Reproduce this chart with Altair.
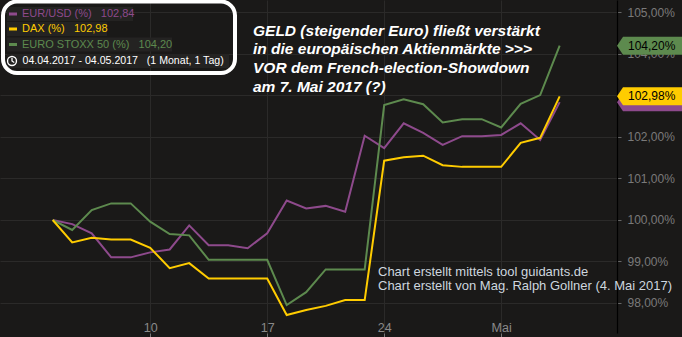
import altair as alt
import pandas as pd

# ---------------- data ----------------
day_index = list(range(27))  # trading-day slots 04.04.2017 .. 04.05.2017
eur_usd = [100.00, 99.90, 99.68, 99.10, 99.10, 99.22, 99.29, 99.87, 99.39, 99.39,
           99.32, 99.68, 100.47, 100.28, 100.34, 100.20, 102.03, 101.73, 102.33, 102.10,
           101.81, 102.02, 102.02, 102.05, 102.33, 101.93, 102.84]
dax = [100.00, 99.46, 99.57, 99.53, 99.53, 99.33, 98.84, 98.96, 98.59, 98.59,
       98.59, 98.59, 97.71, 97.83, 97.93, 98.07, 98.07, 101.43, 101.51, 101.55,
       101.32, 101.28, 101.28, 101.28, 101.86, 101.98, 102.98]
euro_stoxx = [100.00, 99.76, 100.24, 100.40, 100.40, 99.96, 99.66, 99.63, 99.04, 99.04,
              99.04, 99.04, 97.95, 98.26, 98.81, 98.81, 98.81, 102.77, 102.91, 102.79,
              102.35, 102.43, 102.43, 102.23, 102.80, 103.01, 104.20]
series_names = ["EUR/USD", "DAX", "EURO STOXX 50"]
series_colors = ["#8e4a8c", "#ffcc00", "#5d8a4e"]
x_tick_pos = [5, 11, 17, 23]
x_tick_labels = ["10", "17", "24", "Mai"]
y_ticks = [98, 99, 100, 101, 102, 103, 104, 105]
date_range_text = "04.04.2017 - 04.05.2017\u00a0\u00a0\u00a0(1 Monat, 1 Tag)"
headline = ["GELD (steigender Euro) fließt verstärkt",
            "in die europäischen Aktienmärkte >>>",
            "VOR dem French-election-Showdown",
            "am 7. Mai 2017 (?)"]
credits = ["Chart erstellt mittels tool guidants.de",
           "Chart erstellt von Mag. Ralph Gollner (4. Mai 2017)"]

values_by_series = dict(zip(series_names, [eur_usd, dax, euro_stoxx]))
rows = []
for name in series_names:
    for i, v in zip(day_index, values_by_series[name]):
        rows.append({"series": name, "i": i, "v": v})
df = pd.DataFrame(rows)


def de_fmt(v):
    return f"{v:.2f}".replace(".", ",")


last = df[df.i == day_index[-1]].copy()
last["label"] = last.v.map(lambda v: de_fmt(v) + "%")

# ---------------- styling ----------------
W, H = 617, 333
BG = "#1a1918"
GRID = "#2b2a29"
AXIS_TXT = "#7a7a7a"
FONT = "Liberation Sans"

xscale = alt.Scale(domain=[-2.703, 28.94], nice=False, zero=False)
yscale = alt.Scale(domain=[97.277, 105.301], nice=False, zero=False)
cscale = alt.Scale(domain=series_names, range=series_colors)

x_label_expr = " : ".join(f"datum.value == {p} ? '{l}'" for p, l in zip(x_tick_pos, x_tick_labels)) + " : ''"

X = alt.X("i:Q", scale=xscale, title=None,
          axis=alt.Axis(values=x_tick_pos, labelExpr=x_label_expr, grid=True, gridColor=GRID,
                        domain=False, tickColor="#777", tickSize=4, labelColor="#8a8a8a",
                        labelFont=FONT, labelFontSize=12.5, labelPadding=-6,
                        labelBaseline="alphabetic"))
Y = alt.Y("v:Q", scale=yscale, title=None,
          axis=alt.Axis(orient="right", values=y_ticks,
                        labelExpr="replace(format(datum.value, '.2f'), '.', ',') + '%'",
                        grid=True, gridColor=GRID, domainColor="#000000", domainWidth=1.2,
                        tickColor="#666", tickSize=4, labelColor=AXIS_TXT, labelFont=FONT,
                        labelFontSize=12, labelPadding=6))
C = alt.Color("series:N", scale=cscale, legend=None)

layers = []
# lines: purple, green, yellow (yellow on top)
for name in ["EUR/USD", "EURO STOXX 50", "DAX"]:
    layers.append(
        alt.Chart(df[df.series == name]).mark_line(strokeWidth=2).encode(x=X, y=Y, color=C)
    )

# right-side value tags (the EUR/USD tag sits hidden behind the DAX tag)
tag_path = "M-1,0L-0.815,-0.277L1,-0.277L1,0.277L-0.815,0.277Z"
for name in ["EUR/USD", "EURO STOXX 50", "DAX"]:
    d = last[last.series == name]
    layers.append(
        alt.Chart(d).mark_point(shape=tag_path, filled=True, opacity=1, size=65 * 65).encode(
            x=alt.value(649.5), y=Y, color=C)
    )
    if name != "EUR/USD":
        layers.append(
            alt.Chart(d).mark_text(align="left", baseline="middle", font=FONT, fontSize=12,
                                   color="#000000").encode(x=alt.value(628), y=Y, text="label:N")
        )

# legend box
one = pd.DataFrame({"d": [0]})
row_y = [14, 29, 44.5, 61]
row_ends = [133, 107, 172, 229]
for ry, re_ in zip(row_y, row_ends):
    layers.append(alt.Chart(one).mark_rect(color="#242322").encode(
        x=alt.value(7), x2=alt.value(re_), y=alt.value(ry - 7), y2=alt.value(ry + 7)))

for k, name in enumerate(series_names):
    vals = values_by_series[name]
    lab = pd.DataFrame({"t": [f"{name} (%)\u00a0\u00a0\u00a0{de_fmt(vals[-1])}"]})
    layers.append(alt.Chart(one).mark_rect(color=series_colors[k]).encode(
        x=alt.value(9), x2=alt.value(17), y=alt.value(row_y[k] - 1.5), y2=alt.value(row_y[k] + 1.5)))
    layers.append(alt.Chart(lab).mark_text(align="left", baseline="middle", font=FONT, fontSize=11,
                                          color=series_colors[k]).encode(
        x=alt.value(22), y=alt.value(row_y[k]), text="t:N"))

# clock icon + date range
layers.append(alt.Chart(one).mark_point(shape="circle", filled=False, size=80, color="white",
                                        strokeWidth=1.4, opacity=1).encode(
    x=alt.value(12), y=alt.value(row_y[3])))
layers.append(alt.Chart(one).mark_point(shape="M0,-0.6L0,0L0.45,0.3", filled=False, size=100,
                                        color="white", strokeWidth=1.3, opacity=1).encode(
    x=alt.value(12), y=alt.value(row_y[3])))
layers.append(alt.Chart(pd.DataFrame({"t": [date_range_text]})).mark_text(
    align="left", baseline="middle", font=FONT, fontSize=10.6, color="#ffffff").encode(
    x=alt.value(22.5), y=alt.value(row_y[3]), text="t:N"))

layers.append(alt.Chart(one).mark_rect(fillOpacity=0, stroke="white", strokeWidth=4,
                                       cornerRadius=14).encode(
    x=alt.value(3), x2=alt.value(235), y=alt.value(1.5), y2=alt.value(73)))

# headline annotation
for k, line in enumerate(headline):
    layers.append(alt.Chart(pd.DataFrame({"t": [line]})).mark_text(
        align="left", baseline="alphabetic", font=FONT, fontSize=15.5, fontWeight="bold",
        fontStyle="italic", color="#ffffff").encode(
        x=alt.value(253), y=alt.value(35.5 + 18.8 * k), text="t:N"))

# credits
for k, line in enumerate(credits):
    layers.append(alt.Chart(pd.DataFrame({"t": [line]})).mark_text(
        align="left", baseline="alphabetic", font=FONT, fontSize=13, color="#cdd6df").encode(
        x=alt.value(378), y=alt.value(275.7 + 13.8 * k), text="t:N"))

chart = alt.layer(*layers).properties(
    width=W, height=H,
    padding={"left": 0, "top": 0, "right": 65, "bottom": 4},
    autosize="none",
    background=BG,
).configure_view(stroke=None)

chart.save("out.html", embed_options={"renderer": "svg", "actions": False})
